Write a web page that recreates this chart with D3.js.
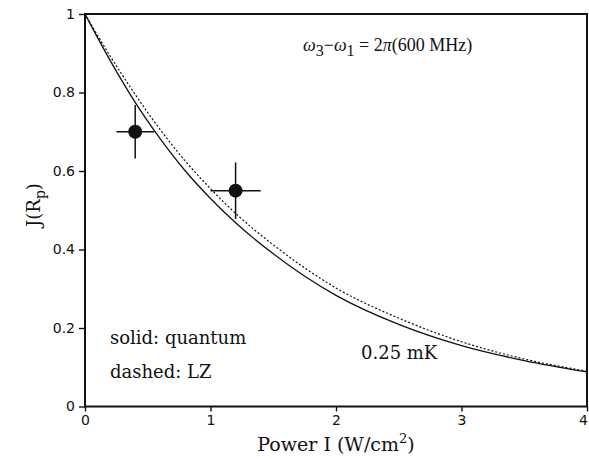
<!DOCTYPE html>
<html>
<head>
<meta charset="utf-8">
<script src="https://cdn.jsdelivr.net/npm/d3@7"></script>
<style>
  body { margin: 0; background: #fff; }
  svg { font-family: "DejaVu Serif", serif; }
</style>
</head>
<body>
<svg id="chart" width="589" height="459"></svg>
<script>
// values
const powerGrid = [0, 0.2, 0.4, 0.6, 0.8, 1.0, 1.2, 1.5, 2.0, 2.5, 3.0, 3.5, 4.0];
const quantum   = [1, 0.882, 0.775, 0.682, 0.600, 0.530, 0.468, 0.389, 0.283, 0.209, 0.155, 0.117, 0.088];
const lz        = [1, 0.893, 0.795, 0.705, 0.625, 0.555, 0.492, 0.412, 0.302, 0.225, 0.165, 0.121, 0.09];

const pointX    = [0.4, 1.2];
const pointY    = [0.70, 0.55];
const pointXErr = [0.15, 0.2];
const pointYErr = [0.068, 0.072];

const xTicks = [0, 1, 2, 3, 4];
const yTicks = [0, 0.2, 0.4, 0.6, 0.8, 1];

const svg = d3.select("#chart");
const margin = { top: 14, right: 2, bottom: 52.5, left: 85 };
const width = 589 - margin.left - margin.right,
  height = 459 - margin.top - margin.bottom;

const g = svg.append("g").attr("transform", `translate(${margin.left},${margin.top})`);

const x = d3.scaleLinear().domain([0, 4]).range([0, width]);
const y = d3.scaleLinear().domain([0, 1]).range([height, 0]);

// axes
const xAxis = g.append("g")
  .attr("transform", `translate(0,${height})`)
  .call(d3.axisBottom(x).tickValues(xTicks).tickFormat(d3.format("d")).tickSize(5).tickPadding(4));
const yAxis = g.append("g")
  .call(d3.axisLeft(y).tickValues(yTicks).tickFormat(d => d === 0 || d === 1 ? d : d3.format(".1f")(d)).tickSize(6).tickPadding(4));

[xAxis, yAxis].forEach(a => {
  a.select(".domain").remove();
  a.selectAll("line").attr("stroke", "#111").attr("stroke-width", 1.4);
  a.selectAll("text").attr("font-size", 14).attr("fill", "#111")
    .attr("font-family", "DejaVu Sans, sans-serif");
});
// last x label sits on the right edge, nudge it in
xAxis.selectAll(".tick text").filter(d => d === 4).attr("dx", -4);

// frame
g.append("rect")
  .attr("width", width).attr("height", height)
  .attr("fill", "none").attr("stroke", "#111").attr("stroke-width", 2);

// curves
const line = d3.line()
  .x((d, i) => x(powerGrid[i]))
  .y(d => y(d))
  .curve(d3.curveMonotoneX);

g.append("path").datum(quantum)
  .attr("fill", "none").attr("stroke", "#111").attr("stroke-width", 1.3)
  .attr("d", line);
g.append("path").datum(lz)
  .attr("fill", "none").attr("stroke", "#111").attr("stroke-width", 1.2)
  .attr("stroke-dasharray", "2,2")
  .attr("d", line);

// data points with error bars
pointX.forEach((px, i) => {
  g.append("line")
    .attr("x1", x(px - pointXErr[i])).attr("x2", x(px + pointXErr[i]))
    .attr("y1", y(pointY[i])).attr("y2", y(pointY[i]))
    .attr("stroke", "#111").attr("stroke-width", 1.5);
  g.append("line")
    .attr("x1", x(px)).attr("x2", x(px))
    .attr("y1", y(pointY[i] - pointYErr[i])).attr("y2", y(pointY[i] + pointYErr[i]))
    .attr("stroke", "#111").attr("stroke-width", 1.5);
  g.append("circle")
    .attr("cx", x(px)).attr("cy", y(pointY[i])).attr("r", 7)
    .attr("fill", "#111");
});

// annotations
const ann = svg.append("text").attr("x", 303).attr("y", 51).attr("font-size", 18)
  .attr("font-family", "Liberation Serif, serif").attr("fill", "#111");
ann.append("tspan").attr("font-style", "italic").text("ω");
ann.append("tspan").attr("dy", 5).attr("font-size", 16).text("3");
ann.append("tspan").attr("dy", -5).text("−");
ann.append("tspan").attr("font-style", "italic").text("ω");
ann.append("tspan").attr("dy", 5).attr("font-size", 16).text("1");
ann.append("tspan").attr("dy", -5).text(" = 2");
ann.append("tspan").attr("font-style", "italic").text("π");
ann.append("tspan").text("(600 MHz)");

svg.append("text").attr("x", 110).attr("y", 344).attr("font-size", 18).attr("fill", "#111")
  .text("solid: quantum");
svg.append("text").attr("x", 110).attr("y", 378).attr("font-size", 18).attr("fill", "#111")
  .text("dashed: LZ");
svg.append("text").attr("x", 361).attr("y", 359).attr("font-size", 18).attr("fill", "#111")
  .text("0.25 mK");

// axis titles
const xl = svg.append("text").attr("x", 336).attr("y", 451).attr("text-anchor", "middle")
  .attr("font-size", 19).attr("fill", "#111");
xl.append("tspan").text("Power I (W/cm");
xl.append("tspan").attr("dy", -8).attr("font-size", 13).text("2");
xl.append("tspan").attr("dy", 8).text(")");

const yl = svg.append("text")
  .attr("transform", "translate(40,205) rotate(-90)")
  .attr("text-anchor", "middle").attr("font-size", 18).attr("fill", "#111");
yl.append("tspan").text("J(R");
yl.append("tspan").attr("dy", 5).attr("font-size", 14).text("p");
yl.append("tspan").attr("dy", -5).text(")");
</script>
</body>
</html>
